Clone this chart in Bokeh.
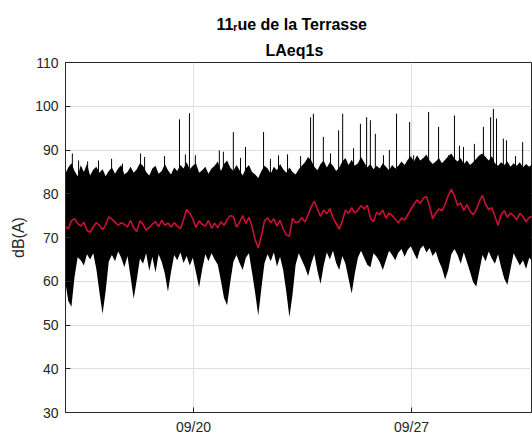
import numpy as np
from bokeh.plotting import figure
from bokeh.models import FixedTicker, Title
from bokeh.embed import file_html
from bokeh.resources import INLINE

# ---- data (day of September, dB(A)) ----
t0 = 15.88          # first 1-s record block shown (day of month)
dt = 0.1            # block spacing in days

level_hi = [84.5, 86.0, 87.0, 85.2, 84.0, 86.5, 85.0, 86.8, 84.2, 85.5, 86.2, 84.8, 85.6, 84.0, 85.2, 86.0, 84.6, 85.8, 86.6, 84.4, 85.0, 86.2, 84.8, 85.6, 87.0, 86.4,
            85.0, 84.2, 85.8, 86.4, 84.6, 85.2, 86.8, 85.4, 84.4, 86.0, 85.2, 86.6, 85.8, 87.2, 85.6, 86.4, 87.0, 84.8, 85.4, 86.2, 84.6, 85.8, 86.4, 87.4, 85.2,
            86.8, 87.6, 86.0, 85.2, 86.6, 85.4, 84.2, 85.8, 86.6, 85.0, 84.4, 83.6, 85.2, 86.4, 85.8, 84.6, 86.2, 85.4, 86.8, 85.6, 84.8, 86.0, 85.0, 84.4, 85.6,
            86.4, 87.2, 88.4, 87.6, 86.2, 85.4, 86.8, 87.6, 86.0, 87.2, 86.4, 85.2, 86.0, 87.4, 88.2, 86.6, 87.8, 86.4, 87.0, 88.4, 87.2, 86.0, 86.8, 85.6, 86.4,
            85.8, 87.0, 86.2, 85.4, 86.6, 85.8, 86.4, 87.4, 86.6, 87.8, 88.6, 87.4, 88.8, 87.6, 88.2, 89.0, 87.6, 86.8, 87.4, 88.2, 87.0, 87.8, 88.6, 89.2, 88.0,
            87.4, 88.2, 86.8, 87.6, 86.6, 87.2, 88.0, 88.8, 89.2, 88.4, 87.6, 88.6, 87.0, 86.4, 87.2, 86.6, 87.4, 86.2, 87.0, 86.4, 87.2, 86.0, 86.8, 86.2, 86.8]

level_lo = [60.0, 55.5, 54.2, 61.0, 65.5, 64.8, 63.6, 66.2, 65.0, 66.4, 62.8, 57.5, 52.5, 57.8, 64.5, 66.0, 64.6, 66.8, 65.4, 63.2, 65.8, 61.0, 56.0, 60.4, 65.2, 64.0,
            66.4, 62.4, 65.6, 62.0, 66.2, 64.4, 61.8, 57.6, 62.2, 66.0, 64.8, 66.6, 64.2, 65.8, 63.6, 65.4, 62.0, 58.6, 62.8, 66.2, 64.6, 66.4, 65.0, 63.8, 60.2,
            56.2, 54.5, 59.8, 64.4, 66.0, 64.2, 62.6, 65.4, 66.4, 62.0, 57.4, 52.2, 58.4, 64.2, 66.2, 64.6, 66.6, 63.4, 65.6, 62.6, 57.6, 51.8, 57.0, 63.8, 66.4,
            64.8, 63.2, 61.2, 64.0, 66.2, 62.4, 59.4, 63.6, 66.6, 65.0, 67.0, 64.2, 62.6, 65.8, 64.0, 60.6, 57.2, 61.8, 65.4, 67.0, 65.4, 63.8, 63.2, 66.4, 65.6,
            64.4, 62.6, 64.8, 67.0, 66.0, 64.8, 66.6, 67.4, 65.6, 67.2, 68.0, 66.4, 65.0, 67.4, 68.2, 66.6, 67.6, 65.8, 66.8, 64.6, 63.0, 60.4, 62.6, 66.2, 67.4,
            66.0, 64.0, 66.6, 64.4, 62.2, 59.8, 58.8, 62.4, 66.0, 64.6, 66.8, 65.2, 64.0, 66.2, 63.2, 60.6, 59.2, 62.8, 66.4, 65.0, 63.6, 64.8, 62.8, 65.4, 64.6]

laeq_avg = [72.5, 72.0, 73.8, 74.3, 73.2, 72.6, 73.5, 71.6, 71.2, 72.4, 73.4, 72.8, 71.8, 72.9, 74.7, 74.2, 73.5, 72.8, 73.4, 73.0, 72.4, 73.9, 72.2, 71.4, 73.8, 73.0,
            71.7, 72.3, 73.1, 73.6, 72.5, 73.9, 72.8, 73.3, 72.4, 73.4, 72.6, 72.0, 74.0, 76.4, 75.6, 74.2, 72.3, 73.8, 73.0, 72.6, 73.9, 72.1, 73.3, 72.2, 73.6,
            72.8, 74.1, 75.0, 74.8, 72.4, 73.5, 75.0, 73.2, 74.6, 72.5, 69.5, 67.6, 70.4, 73.8, 74.5, 73.4, 74.3, 72.6, 73.9, 72.0, 70.6, 70.3, 74.4, 73.4, 73.6,
            74.6, 73.5, 75.2, 77.0, 78.3, 76.5, 74.8, 76.3, 75.4, 76.6, 74.5, 73.2, 71.9, 73.8, 76.3, 75.5, 76.8, 75.6, 76.2, 77.3, 76.5, 77.4, 74.5, 73.6, 75.8,
            75.2, 76.3, 74.4, 75.6, 75.0, 74.2, 73.3, 74.5, 74.0, 75.2, 76.4, 77.6, 78.6, 77.8, 79.0, 79.4, 77.2, 74.3, 75.6, 76.5, 76.1, 77.6, 79.6, 81.0, 79.5,
            77.3, 77.9, 76.2, 77.5, 76.0, 75.2, 76.3, 78.3, 79.6, 77.6, 76.4, 76.8, 74.8, 72.8, 75.2, 76.1, 74.6, 75.6, 75.0, 74.0, 75.5, 74.8, 73.6, 74.6, 74.8]

spike_day = [16.11, 16.31, 16.60, 16.95, 17.37, 17.72, 18.30, 18.43, 19.07, 19.55, 19.74, 19.87, 20.06,
             20.83, 20.96, 21.28, 21.51, 21.67, 22.25, 22.47, 22.73, 23.02, 23.44, 23.76, 23.85, 24.17,
             24.40, 24.66, 24.79, 25.14, 25.36, 25.56, 25.68, 25.84, 26.10, 26.29, 26.52, 26.94, 27.07,
             27.55, 27.87, 28.19, 28.38, 28.54, 28.67, 29.02, 29.31, 29.54, 29.63, 29.73, 29.95, 30.05,
             30.34, 30.57]
spike_top = [89.2, 87.6, 87.4, 87.6, 88.0, 86.9, 89.2, 88.4, 88.6, 97.0, 89.0, 98.4, 88.8,
             89.9, 89.6, 94.1, 88.2, 90.7, 94.1, 88.0, 88.8, 89.0, 88.6, 97.5, 98.3, 93.0,
             89.2, 94.5, 98.3, 90.4, 96.0, 97.5, 96.8, 93.7, 88.8, 90.0, 98.3, 96.4, 88.8,
             98.7, 95.3, 88.8, 97.9, 91.0, 90.7, 91.4, 95.3, 97.5, 99.4, 97.2, 92.6, 92.2,
             88.6, 91.8]

tick_days = [20, 27]
tick_labels = ["09/20", "09/27"]
y_ticks = [30, 40, 50, 60, 70, 80, 90, 100, 110]
title_lines = ["11\u1d63ue de la Terrasse", "LAeq1s"]

days = t0 + dt * np.arange(len(level_hi))

p = figure(width=532, height=437, output_backend="svg", toolbar_location=None,
           x_range=(15.89, 30.854), y_range=(30, 110),
           min_border_left=65, min_border_right=1, min_border_top=62, min_border_bottom=24)
p.title.visible = False
p.background_fill_color = "white"
p.border_fill_color = "white"
p.outline_line_color = "#262626"
p.outline_line_width = 1

# band of 1 s levels
p.varea(x=days, y1=level_lo, y2=level_hi, fill_color="black")
p.segment(x0=spike_day, y0=[80] * len(spike_day), x1=spike_day, y1=spike_top,
          line_color="black", line_width=1)
# running average
p.line(x=days, y=laeq_avg, line_color="#cc1133", line_width=1.6)

# axes
p.xaxis.ticker = FixedTicker(ticks=tick_days)
p.xaxis.major_label_overrides = {d: l for d, l in zip(tick_days, tick_labels)}
p.yaxis.ticker = FixedTicker(ticks=y_ticks)
for ax in (p.xaxis, p.yaxis):
    ax.axis_line_color = "#262626"
    ax.major_tick_line_color = "#262626"
    ax.major_tick_in = 5
    ax.major_tick_out = 0
    ax.minor_tick_line_color = None
    ax.major_label_text_font = "Liberation Sans"
    ax.major_label_text_font_size = "14px"
    ax.major_label_text_color = "#262626"
p.xaxis.major_label_standoff = 6
p.yaxis.major_label_standoff = 7
p.yaxis.axis_label = "dB(A)"
p.yaxis.axis_label_text_font = "Liberation Sans"
p.yaxis.axis_label_text_font_size = "16px"
p.yaxis.axis_label_text_font_style = "normal"
p.yaxis.axis_label_text_color = "#262626"
p.yaxis.axis_label_standoff = 5

p.grid.grid_line_color = "#dedede"
p.grid.grid_line_width = 1

# two-line title
p.add_layout(Title(text=title_lines[1], align="left", offset=200, standoff=7,
                   text_font="Liberation Sans", text_font_size="16px",
                   text_font_style="bold", text_color="black"), "above")
p.add_layout(Title(text=title_lines[0], align="left", offset=151, standoff=7,
                   text_font="Liberation Sans", text_font_size="16px",
                   text_font_style="bold", text_color="black"), "above")

open("out.html", "w").write(file_html(p, INLINE))
